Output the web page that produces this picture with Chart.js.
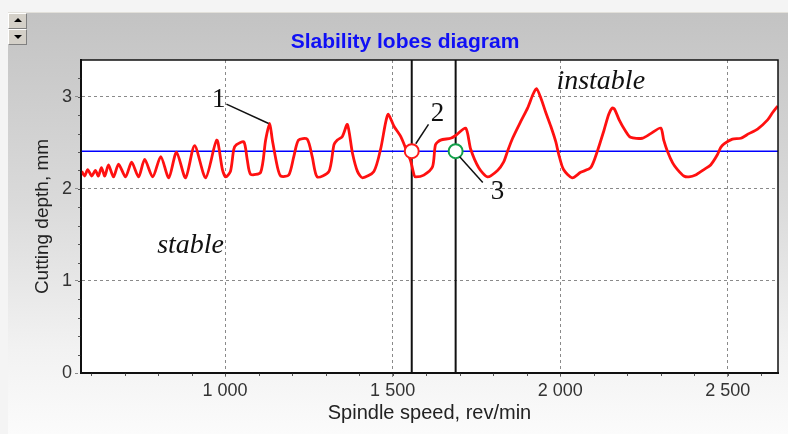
<!DOCTYPE html>
<html>
<head>
<meta charset="utf-8">
<script src="https://cdn.jsdelivr.net/npm/chart.js@4.4.1/dist/chart.umd.min.js"></script>
<style>
	html, body { margin: 0; padding: 0; }
	body { width: 788px; height: 434px; overflow: hidden; position: relative; background: #f4f4f4; }
	#panel {
		position: absolute; left: 8px; top: 12px; right: 0; bottom: 0;
		background: linear-gradient(to bottom, #c3c3c3 0%, #dadada 45%, #f2f2f2 80%, #fbfbfb 100%);
		border-top: 1px solid #e2e0da;
	}
	#spin { position: absolute; left: 8px; top: 13px; width: 19px; height: 32px; background: #404040; }
	#spin .btn {
		position: absolute; left: 0; width: 17px; height: 14px; background: #d4d0c8;
		border-top: 1px solid #fff; border-left: 1px solid #fff; border-right: 1px solid #808080; border-bottom: 1px solid #808080;
	}
	#spin .up { top: 0; }
	#spin .down { top: 16px; }
	#spin .btn i { position: absolute; left: 5px; width: 0; height: 0; border-left: 4px solid transparent; border-right: 4px solid transparent; }
	#spin .up i { top: 4px; border-bottom: 4px solid #000; }
	#spin .down i { top: 5px; border-top: 4px solid #000; }
	canvas { position: absolute; left: 0; top: 0; }
</style>
</head>
<body>
<div id="panel"></div>
<div id="spin"><div class="btn up"><i></i></div><div class="btn down"><i></i></div></div>
<canvas id="lobesChart" width="788" height="434"></canvas>
<script>
// stability lobe curve
const speedRpm = [
	572, 581, 590, 602, 613, 622, 631, 641, 652, 667, 682, 703, 721, 742, 760, 784, 808, 832, 855, 882,
	909, 942, 975,
	992, 1002, 1016, 1026, 1034, 1056, 1066, 1076, 1106, 1121, 1133, 1141, 1156, 1166, 1190, 1205, 1219,
	1245, 1260, 1275, 1310, 1325, 1335, 1350, 1365, 1380, 1395, 1410, 1444, 1464, 1479, 1487, 1504, 1524, 1539, 1554, 1564,
	1569, 1593, 1619, 1628, 1643, 1673, 1688, 1718, 1733, 1757, 1783, 1813, 1831, 1843, 1858, 1882, 1903, 1918, 1929, 1942,
	1957, 1972, 1987, 1996, 2010, 2036, 2061, 2091, 2111, 2131, 2145, 2156, 2163, 2176, 2193, 2210, 2245, 2270, 2300, 2309,
	2320, 2336, 2350, 2369, 2384, 2404, 2429, 2449, 2469, 2479, 2489, 2514, 2539, 2563, 2589, 2619, 2634, 2649
];
const cuttingDepth = [
	2.19, 2.14, 2.21, 2.14, 2.20, 2.14, 2.23, 2.14, 2.26, 2.13, 2.27, 2.13, 2.29, 2.13, 2.32, 2.13, 2.35, 2.12, 2.40, 2.12,
	2.47, 2.12, 2.53,
	2.21, 2.13, 2.19, 2.43, 2.48, 2.51, 2.32, 2.16, 2.18, 2.53, 2.71, 2.53, 2.24, 2.14, 2.15, 2.35, 2.53,
	2.54, 2.35, 2.13, 2.19, 2.48, 2.53, 2.57, 2.70, 2.39, 2.19, 2.12, 2.19, 2.43, 2.72, 2.81, 2.68, 2.57, 2.44, 2.30, 2.15,
	2.13, 2.15, 2.24, 2.48, 2.53, 2.55, 2.58, 2.66, 2.43, 2.23, 2.13, 2.20, 2.29, 2.41, 2.55, 2.73, 2.88, 3.02, 3.09, 2.99,
	2.83, 2.68, 2.51, 2.37, 2.21, 2.12, 2.18, 2.23, 2.41, 2.64, 2.81, 2.88, 2.86, 2.75, 2.64, 2.56, 2.55, 2.60, 2.66, 2.53,
	2.41, 2.28, 2.21, 2.14, 2.13, 2.15, 2.21, 2.26, 2.37, 2.45, 2.49, 2.54, 2.55, 2.60, 2.65, 2.75, 2.83, 2.90
];

const speedMin = 570;
const speedMax = 2650;
const depthMax = 3.4;
const xTicks = [1000, 1500, 2000, 2500];
const yTicks = [0, 1, 2, 3];

const depthLimit = 2.41;
const cursorSpeeds = [1557, 1688];

const markerSpeeds = [1557, 1688];
const markerDepths = [2.41, 2.41];
const markerColors = ['#ff1a1a', '#12a04a'];

const noteTexts = ['1', '2', '3', 'stable', 'instable'];
const noteSpeeds = [981, 1634, 1813, 897, 2121];
const noteDepths = [2.97, 2.81, 1.97, 1.38, 3.17];
const noteItalic = [false, false, false, true, true];

const leaderFrom = [[1004, 2.92], [1569, 2.49], [1700, 2.35]];
const leaderTo = [[1130, 2.71], [1607, 2.70], [1769, 2.07]];

function spaced(v) {
	return String(v).replace(/\B(?=(\d{3})+(?!\d))/g, ' ');
}

const diagramDecor = {
	id: 'diagramDecor',
	beforeDraw(chart) {
		const {ctx, chartArea: a} = chart;
		ctx.save();
		ctx.fillStyle = '#fff';
		ctx.fillRect(a.left, a.top, a.right - a.left, a.bottom - a.top);
		ctx.restore();
	},
	afterDraw(chart) {
		const {ctx, chartArea: a, scales: {x, y}} = chart;
		ctx.save();

		// minor ticks
		ctx.strokeStyle = '#555';
		ctx.lineWidth = 1;
		ctx.beginPath();
		for (let s = 600; s < speedMax; s += 100) {
			const px = Math.round(x.getPixelForValue(s)) + 0.5;
			ctx.moveTo(px, a.bottom);
			ctx.lineTo(px, a.bottom + 3);
		}
		for (let d = 0.2; d < depthMax; d += 0.2) {
			const py = Math.round(y.getPixelForValue(d)) + 0.5;
			ctx.moveTo(a.left - 3, py);
			ctx.lineTo(a.left, py);
		}
		ctx.stroke();

		// frame
		ctx.strokeStyle = '#111';
		ctx.lineWidth = 1.5;
		ctx.strokeRect(a.left, a.top, a.right - a.left, a.bottom - a.top);

		// title
		ctx.fillStyle = '#1010f5';
		ctx.font = 'bold 21px "Liberation Sans", Arial, sans-serif';
		ctx.textAlign = 'center';
		ctx.textBaseline = 'middle';
		ctx.fillText('Slability lobes diagram', 405, 42);

		// leader lines
		ctx.strokeStyle = '#111';
		ctx.lineWidth = 1.5;
		leaderFrom.forEach((p, i) => {
			ctx.beginPath();
			ctx.moveTo(x.getPixelForValue(p[0]), y.getPixelForValue(p[1]));
			ctx.lineTo(x.getPixelForValue(leaderTo[i][0]), y.getPixelForValue(leaderTo[i][1]));
			ctx.stroke();
		});

		// notes
		ctx.fillStyle = '#111';
		noteTexts.forEach((t, i) => {
			ctx.font = (noteItalic[i] ? 'italic 28px' : '27px') + ' "Liberation Serif", "Times New Roman", serif';
			ctx.fillText(t, x.getPixelForValue(noteSpeeds[i]), y.getPixelForValue(noteDepths[i]));
		});
		ctx.restore();
	}
};

const lobeData = speedRpm.map((s, i) => ({x: s, y: cuttingDepth[i]}));

const datasets = [];
markerSpeeds.forEach((s, i) => {
	datasets.push({
		data: [{x: s, y: markerDepths[i]}],
		showLine: false,
		pointRadius: 7,
		pointBorderWidth: 2,
		pointBorderColor: markerColors[i],
		pointBackgroundColor: '#fff',
		order: 0
	});
});
datasets.push({
	data: lobeData,
	borderColor: '#ff1010',
	borderWidth: 2.8,
	borderJoinStyle: 'round',
	pointRadius: 0,
	tension: 0.25,
	order: 1
});
datasets.push({
	data: [{x: speedMin, y: depthLimit}, {x: speedMax, y: depthLimit}],
	borderColor: '#0000ff',
	borderWidth: 1.5,
	pointRadius: 0,
	order: 2
});
cursorSpeeds.forEach(s => {
	datasets.push({
		data: [{x: s, y: 0}, {x: s, y: depthMax}],
		borderColor: '#111',
		borderWidth: 2,
		pointRadius: 0,
		order: 3
	});
});

const tickFont = {family: '"Liberation Sans", Arial, sans-serif', size: 18};

new Chart(document.getElementById('lobesChart'), {
	type: 'line',
	data: {datasets: datasets},
	options: {
		responsive: false,
		animation: false,
		devicePixelRatio: 1,
		layout: {padding: {left: 0, top: 60, right: 10, bottom: 0}},
		plugins: {legend: {display: false}, tooltip: {enabled: false}},
		scales: {
			x: {
				type: 'linear',
				min: speedMin,
				max: speedMax,
				afterBuildTicks: scale => { scale.ticks = xTicks.map(v => ({value: v})); },
				afterFit: scale => { scale.height = 61; },
				ticks: {callback: v => spaced(v), color: '#333', font: tickFont, padding: 1, maxRotation: 0},
				grid: {color: '#8a8a8a', tickColor: '#8a8a8a', tickLength: 6, tickBorderDash: [3, 3]},
				border: {display: true, color: '#111', width: 2, dash: [3, 3]},
				title: {display: true, text: 'Spindle speed, rev/min', color: '#222',
					font: {family: '"Liberation Sans", Arial, sans-serif', size: 20}, padding: {top: 0, bottom: 9}}
			},
			y: {
				type: 'linear',
				min: 0,
				max: depthMax,
				afterBuildTicks: scale => { scale.ticks = yTicks.map(v => ({value: v})); },
				afterFit: scale => { scale.width = 81; },
				ticks: {color: '#333', font: tickFont, padding: 3},
				grid: {color: '#8a8a8a', tickColor: '#8a8a8a', tickLength: 6, tickBorderDash: [3, 3]},
				border: {display: true, color: '#111', width: 2, dash: [3, 3]},
				title: {display: true, text: 'Cutting depth, mm', color: '#222',
					font: {family: '"Liberation Sans", Arial, sans-serif', size: 19}, padding: {top: 31, bottom: 0}}
			}
		}
	},
	plugins: [diagramDecor]
});
</script>
</body>
</html>
